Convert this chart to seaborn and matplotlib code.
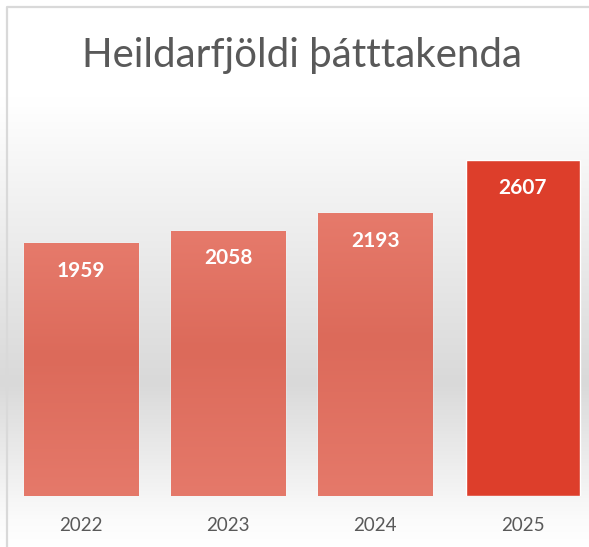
import numpy as np
import pandas as pd
import matplotlib
matplotlib.use('Agg')
import matplotlib.pyplot as plt
from matplotlib.colors import LinearSegmentedColormap
import seaborn as sns

# data
years = ['2022', '2023', '2024', '2025']
participants = [1959, 2058, 2193, 2607]
bar_colors = ['#e07060', '#e07060', '#e07060', '#dd3e2b']

df = pd.DataFrame({'year': years, 'participants': participants})

sns.set_style('white')
plt.rcParams['font.family'] = ['Lato', 'DejaVu Sans']

fig = plt.figure(figsize=(5.89, 5.47), dpi=100)

# background gradient for the whole chart area
bg = fig.add_axes([0, 0, 1, 1], zorder=-2)
bg_cmap = LinearSegmentedColormap.from_list(
    'bg', [(0.0, '#ffffff'), (0.18, '#ffffff'), (0.70, '#d9d9d9'), (0.95, '#fbfbfb'), (1.0, '#ffffff')])
grad = np.linspace(0, 1, 256).reshape(-1, 1)
bg.imshow(grad, aspect='auto', cmap=bg_cmap, extent=[0, 1, 1, 0])
bg.set_xlim(0, 1)
bg.set_ylim(1, 0)
bg.axis('off')
# chart border (left and top edges visible)
bg.plot([6.5 / 589, 6.5 / 589, 1], [1, 6.5 / 547, 6.5 / 547], color='#d9d9d9', lw=1.6)

ax = fig.add_axes([7 / 589, 51 / 547, 582 / 589, 374 / 547])
ax.patch.set_alpha(0)
sns.barplot(data=df, x='year', y='participants', hue='year', palette=bar_colors,
            legend=False, width=0.775, saturation=1, ax=ax)

# soft vertical shading on the lighter bars
bar_cmap = LinearSegmentedColormap.from_list(
    'bar', [(0.0, '#e67a6b'), (0.45, '#dc6a5a'), (1.0, '#e5796a')])
for i, p in enumerate(ax.patches[:3]):
    x0, y0 = p.get_x(), p.get_y()
    w, h = p.get_width(), p.get_height()
    im = ax.imshow(grad, aspect='auto', cmap=bar_cmap,
                   extent=[x0, x0 + w, y0, y0 + h], origin='upper', zorder=2)
    im.set_clip_path(p)

for i, v in enumerate(participants):
    ax.annotate(str(v), (i, v), xytext=(0, -20), textcoords='offset points',
                ha='center', va='center', color='white', fontsize=15,
                fontweight='bold', zorder=5)

ax.set_xlim(-0.5, 3.45)
ax.set_ylim(0, 2900)
ax.set_xlabel('')
ax.set_ylabel('')
ax.set_yticks([])
ax.tick_params(axis='x', length=0, pad=15, labelsize=13.5, labelcolor='#595959')
for s in ax.spines.values():
    s.set_visible(False)

fig.text(0.513, 1 - 55 / 547, 'Heildarfjöldi þátttakenda', ha='center', va='center',
         fontsize=29, color='#595959')

fig.savefig('out.png', dpi=100)
